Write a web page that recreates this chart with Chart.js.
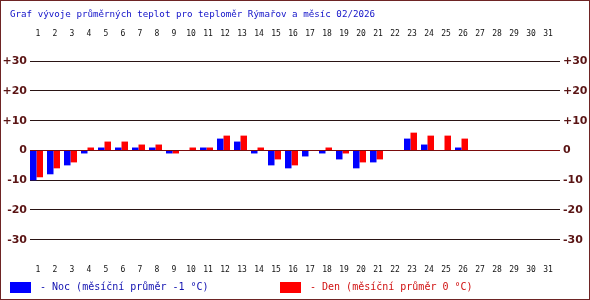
<!DOCTYPE html>
<html>
<head>
<meta charset="utf-8">
<script src="https://cdn.jsdelivr.net/npm/chart.js@4/dist/chart.umd.min.js"></script>
<style>
  html, body { margin: 0; padding: 0; background: #fff; }
  #wrap { position: relative; width: 590px; height: 300px; overflow: hidden; background: #fff; }
  #c { position: absolute; left: 0; top: 0; }
  #frame { position: absolute; left: 0; top: 0; width: 590px; height: 300px; box-sizing: border-box; border: 1px solid #6e2424; pointer-events: none; }
  .t { position: absolute; font-family: "DejaVu Sans Mono", monospace; white-space: pre; line-height: 1; }
  #title { left: 10px; top: 9px; font-size: 9.2px; color: #1010c8; }
  .box { position: absolute; width: 21px; height: 11px; }
  #lg1 { left: 40px; top: 282px; font-size: 10px; color: #1010b0; }
  #lg2 { left: 310px; top: 282px; font-size: 10px; color: #d01010; }
</style>
</head>
<body>
<div id="wrap">
  <canvas id="c" width="590" height="300"></canvas>
  <div class="t" id="title">Graf vývoje průměrných teplot pro teploměr Rýmařov a měsíc 02/2026</div>
  <div class="box" style="left:10px;top:282px;background:#0000ff"></div>
  <div class="t" id="lg1">- Noc (měsíční průměr -1 °C)</div>
  <div class="box" style="left:280px;top:282px;background:#ff0000"></div>
  <div class="t" id="lg2">- Den (měsíční průměr 0 °C)</div>
  <div id="frame"></div>
</div>
<script>
const days = ['1','2','3','4','5','6','7','8','9','10','11','12','13','14','15','16','17','18','19','20','21','22','23','24','25','26','27','28','29','30','31'];
const nocValues = [-10,-8,-5,-1,1,1,1,1,-1,0,1,4,3,-1,-5,-6,-2,-1,-3,-6,-4,0,4,2,0,1,0,0,0,0,0];
const denValues = [-9,-6,-4,1,3,3,2,2,-1,1,1,5,5,1,-3,-5,0,1,-1,-4,-3,0,6,5,5,4,0,0,0,0,0];
const yTickValues = [-30,-20,-10,0,10,20,30];
const yTickLabels = ['-30','-20','-10','0','+10','+20','+30'];

const X_MIN = 0.6176, X_MAX = 31.794;
const Y_MIN = -37.48, Y_MAX = 37.14;

function pts(arr) { return arr.map((v, i) => ({ x: Number(days[i]), y: v })); }
function dayTicks(scale) { scale.ticks = days.map(d => ({ value: Number(d) })); }
function yTicks(scale) { scale.ticks = yTickValues.map(v => ({ value: v })); }
function yLabel(v) { const i = yTickValues.indexOf(v); return i >= 0 ? yTickLabels[i] : ''; }

const dayFont = { family: 'DejaVu Sans Mono', size: 8 };
const yFont = { family: 'DejaVu Sans', size: 11, weight: 'bold' };

new Chart(document.getElementById('c'), {
  type: 'bar',
  data: {
    datasets: [
      { label: 'Noc', data: pts(nocValues), backgroundColor: '#0000ff', borderWidth: 0, categoryPercentage: 0.765, barPercentage: 1.0 },
      { label: 'Den', data: pts(denValues), backgroundColor: '#ff0000', borderWidth: 0, categoryPercentage: 0.765, barPercentage: 1.0 }
    ]
  },
  options: {
    responsive: false,
    animation: false,
    layout: { padding: 0 },
    plugins: { legend: { display: false }, tooltip: { enabled: false }, title: { display: false } },
    scales: {
      x: {
        type: 'linear', position: 'bottom', min: X_MIN, max: X_MAX, offset: false,
        grid: { display: false, drawTicks: false, offset: false }, border: { display: false },
        afterBuildTicks: dayTicks,
        afterFit: s => { s.height = 38; },
        ticks: { font: dayFont, color: '#111', padding: 3, labelOffset: 1.5, maxRotation: 0, autoSkip: false, callback: v => String(v) }
      },
      xTop: {
        type: 'linear', position: 'top', min: X_MIN, max: X_MAX, offset: false,
        grid: { display: false, drawTicks: false, offset: false }, border: { display: false },
        afterBuildTicks: dayTicks,
        afterFit: s => { s.height = 40; },
        ticks: { font: dayFont, color: '#111', padding: 1, labelOffset: 1.5, maxRotation: 0, autoSkip: false, callback: v => String(v) }
      },
      y: {
        type: 'linear', position: 'left', min: Y_MIN, max: Y_MAX,
        afterBuildTicks: yTicks,
        afterFit: s => { s.width = 30; },
        border: { display: false },
        grid: { drawTicks: false, lineWidth: 1, color: c => (c.tick && c.tick.value === 0) ? '#7a0c0c' : '#2a1414' },
        ticks: { font: yFont, color: '#5a1414', padding: 3, callback: yLabel }
      },
      y2: {
        type: 'linear', position: 'right', min: Y_MIN, max: Y_MAX,
        afterBuildTicks: yTicks,
        afterFit: s => { s.width = 30; },
        border: { display: false },
        grid: { display: false, drawTicks: false },
        ticks: { font: yFont, color: '#5a1414', padding: 3, callback: yLabel }
      }
    }
  }
});
</script>
</body>
</html>
